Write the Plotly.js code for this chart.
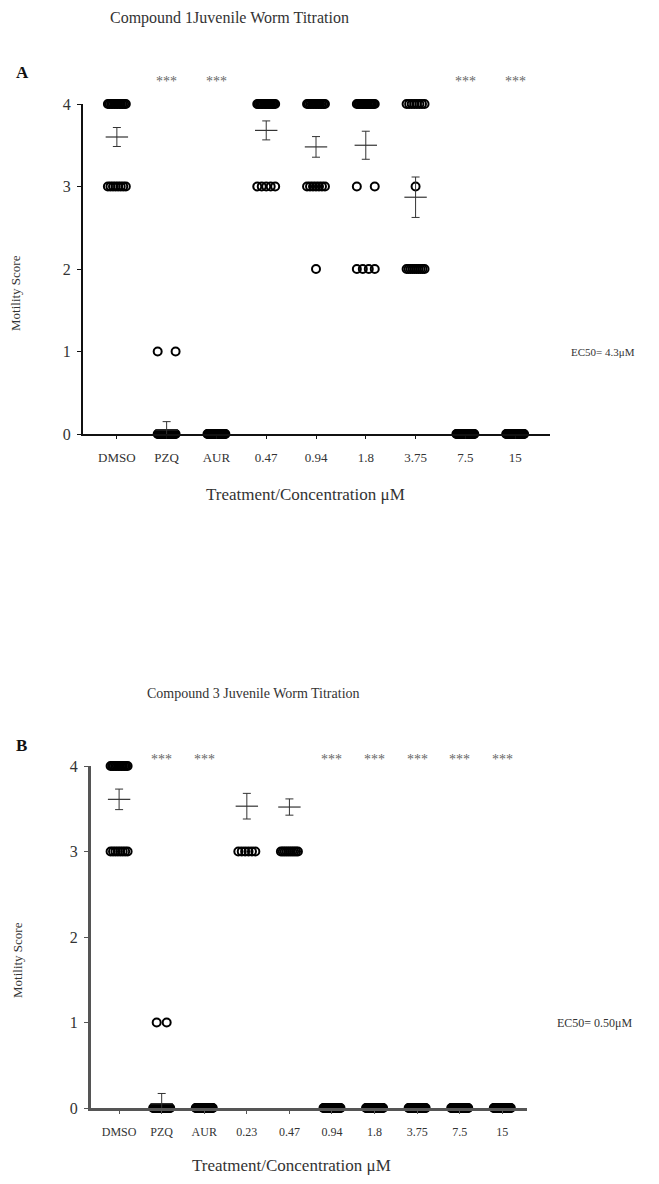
<!DOCTYPE html>
<html>
<head>
<meta charset="utf-8">
<script src="https://cdn.plot.ly/plotly-3.0.1.min.js"></script>
<style>html,body{margin:0;padding:0;background:#fff;}#chart{width:659px;height:1184px;}</style>
</head>
<body>
<div id="chart"></div>
<script>
// ---------- Panel A : Compound 1 ----------
const catsA = ['DMSO','PZQ','AUR','0.47','0.94','1.8','3.75','7.5','15'];
// number of worms at each motility score (0..4) per treatment
const n0A = [0, 28, 30, 0, 0, 0, 0, 30, 30];
const n1A = [0, 2, 0, 0, 0, 0, 0, 0, 0];
const n2A = [0, 0, 0, 0, 1, 4, 10, 0, 0];
const n3A = [8, 0, 0, 5, 7, 2, 1, 0, 0];
const n4A = [12, 0, 0, 14, 12, 14, 8, 0, 0];
const meanA = [3.60, 0.05, 0, 3.68, 3.48, 3.50, 2.87, 0, 0];
const semA  = [0.115, 0.10, 0, 0.115, 0.125, 0.17, 0.245, 0, 0];
const starsA = ['', '***', '***', '', '', '', '', '***', '***'];

// ---------- Panel B : Compound 3 ----------
const catsB = ['DMSO','PZQ','AUR','0.23','0.47','0.94','1.8','3.75','7.5','15'];
const n0B = [0, 28, 30, 0, 0, 30, 30, 30, 30, 30];
const n1B = [0, 2, 0, 0, 0, 0, 0, 0, 0, 0];
const n2B = [0, 0, 0, 0, 0, 0, 0, 0, 0, 0];
const n3B = [8, 0, 0, 6, 10, 0, 0, 0, 0, 0];
const n4B = [12, 0, 0, 0, 0, 0, 0, 0, 0, 0];
const meanB = [3.61, 0.05, 0, 3.53, 3.52, 0, 0, 0, 0, 0];
const semB  = [0.12, 0.12, 0, 0.15, 0.095, 0, 0, 0, 0, 0];
const starsB = ['', '***', '***', '', '', '***', '***', '***', '***', '***'];

const scores = [0, 1, 2, 3, 4];
const yMax = 4;
const SERIF = 'Liberation Serif, Times New Roman, serif';

function buildPoints(countsByScore, nCats, step, maxSpread) {
  const xs = [], ys = [];
  for (let s = 0; s < scores.length; s++) {
    const counts = countsByScore[s];
    for (let c = 0; c < nCats; c++) {
      const n = counts[c];
      if (!n) continue;
      const spread = n > 1 ? Math.min(maxSpread, step * (n - 1)) : 0;
      for (let k = 0; k < n; k++) {
        const off = n > 1 ? -spread / 2 + spread * k / (n - 1) : 0;
        xs.push(c + off);
        ys.push(scores[s]);
      }
    }
  }
  return {xs, ys};
}

function panelTraces(cats, counts, means, sems, step, maxSpread, xa, ya) {
  const idx = cats.map((_, i) => i);
  const p = buildPoints(counts, cats.length, step, maxSpread);
  const pts = {
    type: 'scatter', mode: 'markers', x: p.xs, y: p.ys, xaxis: xa, yaxis: ya,
    cliponaxis: false, hoverinfo: 'skip', showlegend: false,
    marker: {symbol: 'circle-open', size: 8, color: '#000', line: {width: 2, color: '#000'}}
  };
  const mIdx = idx.filter(i => means[i] > 0);
  const mean = {
    type: 'scatter', mode: 'markers', xaxis: xa, yaxis: ya, cliponaxis: false, showlegend: false,
    x: mIdx, y: mIdx.map(i => means[i]),
    marker: {symbol: 'line-ew', size: 16, color: '#333', line: {width: 1.2, color: '#333'}},
    error_y: {type: 'data', array: mIdx.map(i => sems[i]), visible: true, thickness: 1, width: 4, color: '#333'}
  };
  return [pts, mean];
}

const traces = [
  ...panelTraces(catsA, [n0A, n1A, n2A, n3A, n4A], meanA, semA, 0.36, 0.36, 'x', 'y'),
  ...panelTraces(catsB, [n0B, n1B, n2B, n3B, n4B], meanB, semB, 0.235, 0.40, 'x2', 'y2')
];

// significance stars: x in data units, y as fraction of the y-axis (score / yMax)
function starAnns(cats, stars, starY, xr, yr) {
  return cats.map((_, i) => i).filter(i => stars[i]).map(i => ({
    text: stars[i], x: i, y: starY / yMax, xref: xr, yref: yr + ' domain', showarrow: false,
    xanchor: 'center', yanchor: 'middle', font: {family: SERIF, size: 14, color: '#666'}
  }));
}

const W = 659, H = 1184;
const px = v => v / W, py = v => 1 - v / H;

function xaxisDef(cats, range, domain, anchor, lc, lw, fs, standoff) {
  return {
    domain: domain, anchor: anchor, range: range,
    tickmode: 'array', tickvals: cats.map((_, i) => i), ticktext: cats,
    showline: true, linecolor: lc, linewidth: lw, ticks: 'outside', ticklen: 3, tickwidth: 1, tickcolor: lc,
    ticklabelstandoff: standoff,
    showgrid: false, zeroline: false, tickfont: {family: SERIF, size: fs, color: '#333'}, fixedrange: true
  };
}
function yaxisDef(domain, anchor, lc, lw) {
  return {
    domain: domain, anchor: anchor, range: [0, yMax], tickvals: [0, 1, 2, 3, 4],
    showline: true, linecolor: lc, linewidth: lw, ticks: 'outside', ticklen: 4, tickwidth: 1, tickcolor: lc,
    ticklabelstandoff: 3,
    showgrid: false, zeroline: false, tickfont: {family: SERIF, size: 16, color: '#333'}, fixedrange: true
  };
}

const ann = (text, x, y, size, opts) => Object.assign({
  text: text, x: px(x), y: py(y), xref: 'paper', yref: 'paper', showarrow: false,
  xanchor: 'center', yanchor: 'middle', font: {family: SERIF, size: size, color: '#333'}
}, opts || {});

const layout = {
  width: W, height: H, margin: {l: 0, r: 0, t: 0, b: 0},
  paper_bgcolor: '#fff', plot_bgcolor: '#fff', showlegend: false,
  xaxis: xaxisDef(catsA, [-0.68, 8.7], [px(83), px(550)], 'y', '#111', 2, 13, 7),
  yaxis: yaxisDef([py(434), py(104)], 'x', '#111', 2),
  xaxis2: xaxisDef(catsB, [-0.66, 9.58], [px(91), px(527)], 'y2', '#555', 3, 12, 8),
  yaxis2: yaxisDef([py(1108), py(766)], 'x2', '#555', 3),
  annotations: [
    ann('Compound 1Juvenile Worm Titration', 229, 18, 16),
    ann('<b>A</b>', 14, 73, 17, {xanchor: 'left', font: {family: SERIF, size: 17, color: '#111'}}),
    ann('Motility Score', 15, 293, 13, {textangle: -90}),
    ann('Treatment/Concentration μM', 305, 494, 17),
    ann('EC50= 4.3μM', 569, 352, 11, {xanchor: 'left'}),
    ann('Compound 3 Juvenile Worm Titration', 253, 693, 14),
    ann('<b>B</b>', 14, 745, 17, {xanchor: 'left', font: {family: SERIF, size: 17, color: '#111'}}),
    ann('Motility Score', 17, 960, 13, {textangle: -90}),
    ann('Treatment/Concentration μM', 291, 1165, 17),
    ann('EC50= 0.50μM', 555, 1023, 12, {xanchor: 'left'}),
    ...starAnns(catsA, starsA, 4.27, 'x', 'y'),
    ...starAnns(catsB, starsB, 4.08, 'x2', 'y2')
  ]
};

Plotly.newPlot('chart', traces, layout, {staticPlot: true, displayModeBar: false});
</script>
</body>
</html>
